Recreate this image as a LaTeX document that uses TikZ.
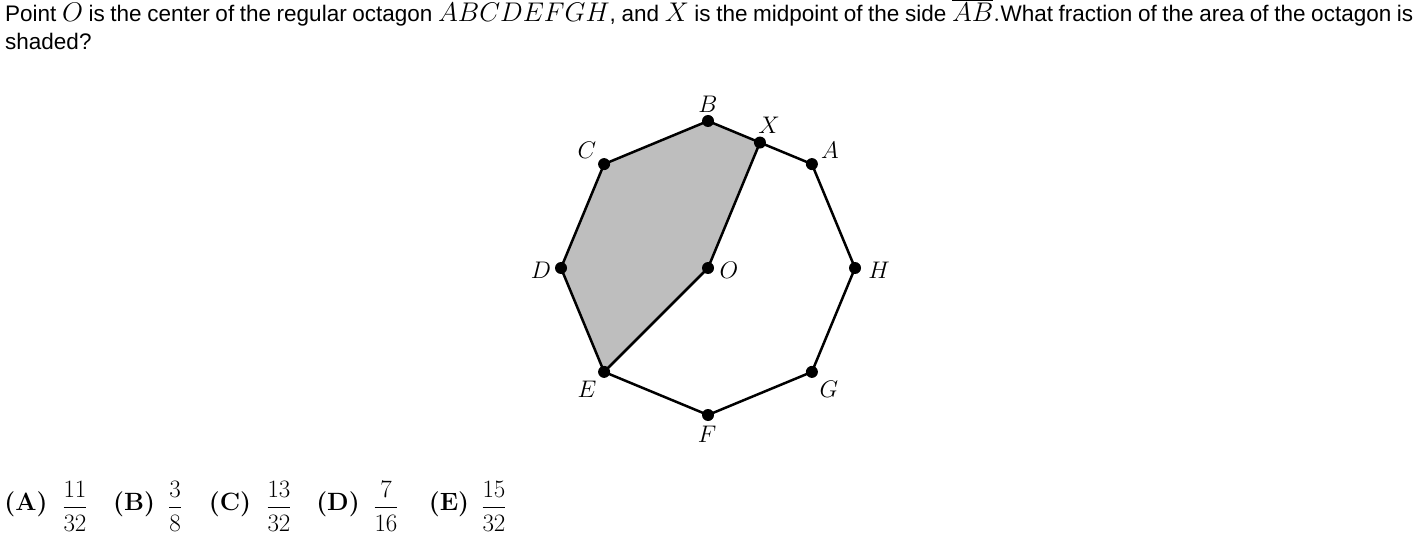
\RequirePackage{fix-cm}
\documentclass[tikz,border=0pt]{standalone}
\usepackage{amsmath}
\usepackage{fontspec}
\newfontfamily\qfont{Liberation Sans}
\definecolor{regiongray}{RGB}{190,190,190}
\newcommand\qm[1]{{\fontsize{27}{30}\selectfont$#1$}}
\tikzset{
  edge/.style={line width=2.5pt, line join=round},
  dot/.style={circle, fill=black, inner sep=0pt, minimum size=12pt},
  lab/.style={inner sep=0pt, font=\fontsize{24}{28}\selectfont},
  qtext/.style={anchor=base west, inner sep=0pt, font=\qfont\fontsize{22.5}{26}\selectfont},
  choice/.style={inner sep=0pt, font=\fontsize{25}{29}\selectfont}
}
\begin{document}
\begin{tikzpicture}[x=1pt,y=-1pt]
\useasboundingbox (0,0) rectangle (1422,540);
% question text
\node[qtext] (l1) at (5,22) {\makebox[1408pt][s]{Point \qm{O} is the center of the regular octagon \qm{ABCDEFGH}, and \qm{X} is the midpoint of the side \qm{\overline{AB}.}What fraction of the area of the octagon is}};
\node[qtext] (l2) at (5,50) {shaded?};
% octagon points
\coordinate (O) at (708,268);
\coordinate (B) at (708,121);
\coordinate (A) at (811.9,164.1);
\coordinate (H) at (855,268);
\coordinate (G) at (811.9,371.9);
\coordinate (F) at (708,415);
\coordinate (E) at (604.1,371.9);
\coordinate (D) at (561,268);
\coordinate (C) at (604.1,164.1);
\coordinate (X) at (759.95,142.55);
% shaded region
\fill[regiongray] (B) -- (C) -- (D) -- (E) -- (O) -- (X) -- cycle;
% outline
\draw[edge] (A) -- (B) -- (C) -- (D) -- (E) -- (F) -- (G) -- (H) -- cycle;
\draw[edge] (X) -- (O) -- (E);
% dots
\foreach \p in {A,B,C,D,E,F,G,H,O,X} \node[dot] (d\p) at (\p) {};
% labels
\node[lab] (lB) at (708,104) {$B$};
\node[lab] (lX) at (769,125) {$X$};
\node[lab] (lA) at (830,150) {$A$};
\node[lab] (lC) at (587,150) {$C$};
\node[lab] (lD) at (541,270) {$D$};
\node[lab] (lO) at (729,270) {$O$};
\node[lab] (lH) at (879,270) {$H$};
\node[lab] (lE) at (587,389) {$E$};
\node[lab] (lG) at (829,389) {$G$};
\node[lab] (lF) at (707,434) {$F$};
% answer choices
\node[choice] (cA) at (26,504) {\textbf{(A)}};
\node[choice] (fA) at (75,506) {$\dfrac{11}{32}$};
\node[choice] (cB) at (134,504) {\textbf{(B)}};
\node[choice] (fB) at (175,506) {$\dfrac{3}{8}$};
\node[choice] (cC) at (230,504) {\textbf{(C)}};
\node[choice] (fC) at (279,506) {$\dfrac{13}{32}$};
\node[choice] (cD) at (338,504) {\textbf{(D)}};
\node[choice] (fD) at (386,506) {$\dfrac{7}{16}$};
\node[choice] (cE) at (449,504) {\textbf{(E)}};
\node[choice] (fE) at (494,506) {$\dfrac{15}{32}$};
\end{tikzpicture}
\end{document}
